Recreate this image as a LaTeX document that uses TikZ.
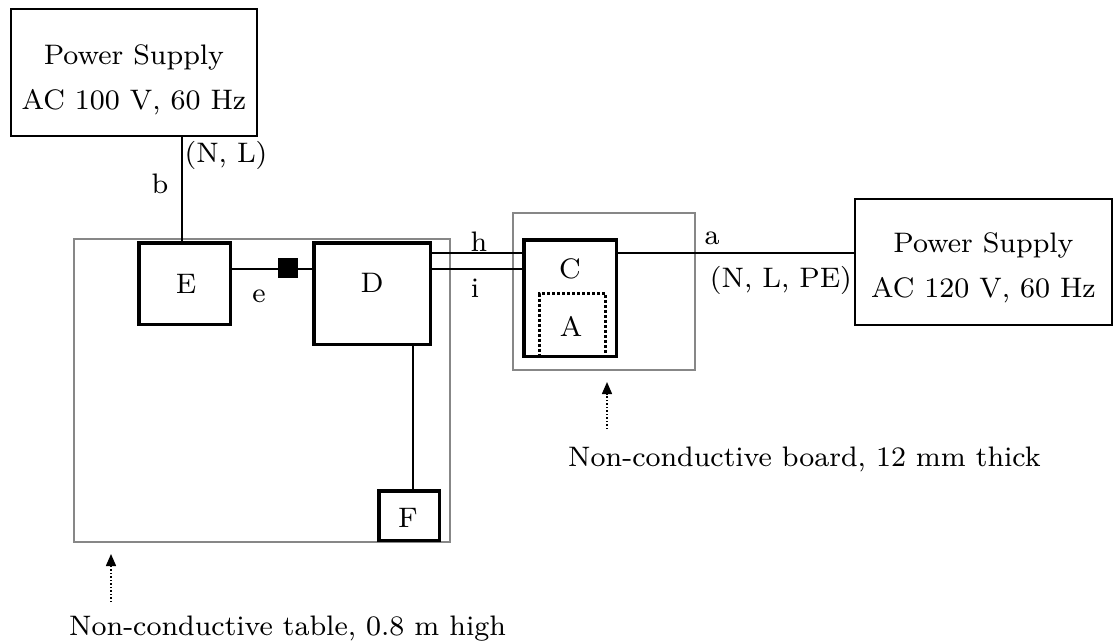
\documentclass[tikz,border=0pt]{standalone}
\usepackage{fontspec}
\setmainfont{lmroman8-regular.otf}
\usetikzlibrary{arrows.meta}
\begin{document}
\begin{tikzpicture}[x=1pt,y=-1pt,
  every node/.style={font=\fontsize{28.2}{45}\selectfont, inner sep=0pt},
  psbox/.style={draw, line width=2pt, anchor=north west},
  devbox/.style={draw, line width=3.5pt, anchor=north west},
  zone/.style={draw=black!47, line width=2pt, anchor=north west},
  wire/.style={line width=1.6pt},
  pointer/.style={line width=1.5pt, dotted, -{Triangle[length=12pt,width=10pt]}},
  eut/.style={draw, dotted, line width=3pt, anchor=north west}]
\useasboundingbox (0,0) rectangle (1115,641);

% zones
\node[zone, minimum width=376, minimum height=303] (table) at (73,238) {};
\node[zone, minimum width=182, minimum height=157] (board) at (512,212) {};

% helper coordinates
\coordinate (bx) at (182,0);
\coordinate (ey) at (0,269);
\coordinate (hy) at (0,253);
\coordinate (iy) at (0,269);
\coordinate (fx) at (413,0);
\coordinate (px1) at (607,0);
\coordinate (px2) at (111,0);

% power supplies
\node[psbox, minimum width=246, minimum height=127] (PS1) at (10,8) {};
\node[align=center] (PS1t) at (134,80) {Power Supply\\AC 100 V, 60 Hz};
\node[psbox, minimum width=257, minimum height=126] (PS2) at (854,198) {};
\node[align=center] (PS2t) at (983.5,267.5) {Power Supply\\AC 120 V, 60 Hz};

% devices
\node[eut, minimum width=66, minimum height=63] (A) at (538,292) {};
\node[devbox, minimum width=91.5, minimum height=81.5] (E) at (137,241) {};
\node[devbox, minimum width=116.5, minimum height=101.5] (D) at (312,241) {};
\node[devbox, minimum width=92.5, minimum height=116.5] (C) at (522,238) {};
\node[devbox, minimum width=60.5, minimum height=49.5] (F) at (377,489) {};

% wires
\draw[wire] (PS1.south -| bx) -- (E.north -| bx);
\draw[wire] (E.east |- ey) -- (D.west |- ey);
\node[fill, minimum size=20pt] (sq) at (288,267.5) {};
\draw[wire] (D.east |- hy) -- (C.west |- hy);
\draw[wire] (D.east |- iy) -- (C.west |- iy);
\draw[wire] (C.east |- hy) -- (PS2.west |- hy);
\draw[wire] (D.south -| fx) -- (F.north -| fx);

% labels
\node (lE) at (186,284) {E};
\node (lD) at (372,283) {D};
\node (lC) at (570,269) {C};
\node (lA) at (571,326) {A};
\node (lF) at (408,518) {F};
\node (lb) at (160,184) {b};
\node (lNL) at (226,155) {(N, L)};
\node (le) at (259,296) {e};
\node (lh) at (479,242) {h};
\node (li) at (475,288) {i};
\node (la) at (712,238) {a};
\node[anchor=east] (lNLPE) at (852,280) {(N, L, PE)};

% notes
\node[anchor=base west] (boardtxt) at (568,466) {Non-conductive board, 12 mm thick};
\node[anchor=base west] (tabletxt) at (69,635) {Non-conductive table, 0.8 m high};
\draw[pointer, shorten <=17pt, shorten >=11pt] (boardtxt.north -| px1) -- (board.south -| px1);
\draw[pointer, shorten <=13pt, shorten >=11pt] (tabletxt.north -| px2) -- (table.south -| px2);
\end{tikzpicture}
\end{document}
